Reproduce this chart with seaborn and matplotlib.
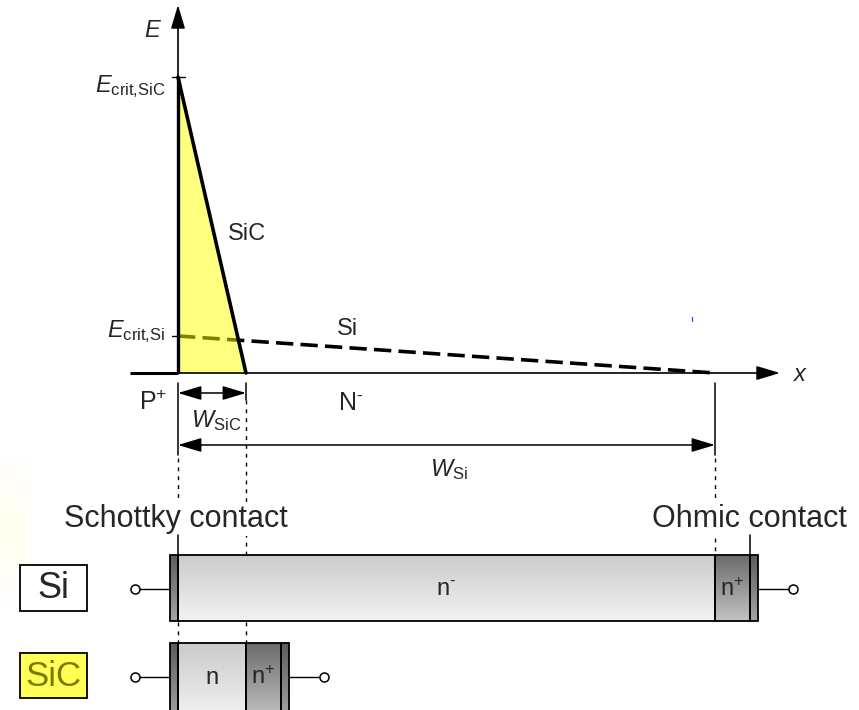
import numpy as np
import matplotlib
matplotlib.use("Agg")
import matplotlib.pyplot as plt
from matplotlib.colors import to_rgb
from matplotlib.patches import Rectangle
import pandas as pd
import seaborn as sns

sns.set_theme(style="white")
plt.rcParams["font.family"] = ["Liberation Sans", "DejaVu Sans"]
plt.rcParams.update({
    "mathtext.fontset": "custom",
    "mathtext.rm": "Liberation Sans",
    "mathtext.it": "Liberation Sans:italic",
    "mathtext.bf": "Liberation Sans:bold",
})

# Depletion widths and critical fields (diagram units, origin at the junction)
W_SIC = 68
W_SI = 537
E_CRIT_SIC = 296
E_CRIT_SI = 37

sic_depth = [0, W_SIC]
sic_field = [E_CRIT_SIC, 0]
si_depth = [0, W_SI]
si_field = [E_CRIT_SI, 0]

# Device layer stacks: (name, start, end)
si_layers = [("contact", -8, 0), ("n-", 0, W_SI), ("n+", W_SI, W_SI + 35), ("contact", W_SI + 35, W_SI + 43)]
sic_layers = [("contact", -8, 0), ("n", 0, W_SIC), ("n+", W_SIC, W_SIC + 35), ("contact", W_SIC + 35, W_SIC + 43)]

fig = plt.figure(figsize=(8.59, 7.10), dpi=100)
ax = fig.add_axes([0, 0, 1, 1])
ax.set_axis_off()

K = "black"
HYPHEN_SUP = r"$^{\text{-}}$"

# soft pale glow at the left edge
gy = np.linspace(0, 1, 200)[:, None]
gx = np.linspace(0, 1, 40)[None, :]
alpha = 0.12 * np.exp(-((gy - 0.5) / 0.3) ** 2) * np.clip((1 - gx) * 6, 0, 1)
glow = np.zeros((200, 40, 4))
glow[..., 0] = 1.0
glow[..., 1] = 0.97
glow[..., 2] = 0.5
glow[..., 3] = alpha
ax.imshow(glow, extent=[-178, -145, -232, -82], aspect="auto", zorder=0)

# ---- field diagram ----
prof_si = pd.DataFrame({"depth": si_depth, "field": si_field})
prof_sic = pd.DataFrame({"depth": sic_depth, "field": sic_field})

sns.lineplot(data=prof_si, x="depth", y="field", ax=ax, color=K, lw=2.6,
             estimator=None, zorder=2)
ax.lines[-1].set_dashes((4.8, 2.0))
ax.lines[-1].set_dash_capstyle("butt")

ax.fill_between(sic_depth, sic_field, 0, color=(1, 1, 0), alpha=0.5, lw=0, zorder=3)
sns.lineplot(data=prof_sic, x="depth", y="field", ax=ax, color=K, lw=2.6,
             estimator=None, zorder=4)
ax.plot([0, 0], [0, E_CRIT_SIC], color=K, lw=2.4, zorder=4, solid_capstyle="butt")

# axes with arrow heads
arrow = dict(arrowstyle="-|>,head_length=0.8,head_width=0.24", mutation_scale=18,
             lw=1.2, color=K, shrinkA=0, shrinkB=0)
ax.annotate("", xy=(0, 368), xytext=(0, 0), arrowprops=arrow, zorder=5)
ax.annotate("", xy=(602, 0), xytext=(0, 0), arrowprops=arrow, zorder=5)
ax.plot([-48, 0], [0, 0], color=K, lw=2.2, zorder=5, solid_capstyle="butt")

# critical-field ticks
ax.plot([-6, 7], [E_CRIT_SIC, E_CRIT_SIC], color=K, lw=1.0, zorder=5)
ax.plot([-6, 0], [E_CRIT_SI, E_CRIT_SI], color=K, lw=1.0, zorder=5)

ax.text(-25, 342, r"$E$", fontsize=17, ha="center", va="center")
ax.text(623, -2, r"$x$", fontsize=17, ha="center", va="center")
ax.text(-13, 281, r"$E_{\mathrm{crit{,}SiC}}$", fontsize=17, ha="right", va="baseline")
ax.text(-13, 36, r"$E_{\mathrm{crit{,}Si}}$", fontsize=17, ha="right", va="baseline")
ax.text(69, 139, "SiC", fontsize=17, ha="center", va="center")
ax.text(169, 44, "Si", fontsize=17, ha="center", va="center")
ax.text(-25, -37, r"P$^{+}$", fontsize=18, ha="center", va="baseline")
ax.text(173, -37, "N" + HYPHEN_SUP, fontsize=18, ha="center", va="baseline")

# stray marker
ax.plot([514, 514], [52, 56], color="#3a3aff", lw=0.9, zorder=5)

# width arrows
darrow = dict(arrowstyle="<|-|>,head_length=0.8,head_width=0.24", mutation_scale=18,
              lw=1.1, color=K, shrinkA=0, shrinkB=0)
ax.annotate("", xy=(W_SIC, -20), xytext=(0, -20), arrowprops=darrow)
ax.annotate("", xy=(W_SI, -72), xytext=(0, -72), arrowprops=darrow)
ax.text(38, -54, r"$W_{\mathrm{SiC}}$", fontsize=17, ha="center", va="baseline")
ax.text(271, -103, r"$W_{\mathrm{Si}}$", fontsize=17, ha="center", va="baseline")

# reference verticals
for x0, y0, y1 in [(0, -10, -82), (W_SIC, -10, -27), (W_SI, -10, -82)]:
    ax.plot([x0, x0], [y0, y1], color=K, lw=1.1, zorder=4)
dot = (2.8, 3.6)
for x0, y0, y1 in [(0, -85, -164), (W_SIC, -27, -182), (W_SI, -85, -182),
                   (0, -249, -270), (W_SIC, -249, -270)]:
    ln, = ax.plot([x0, x0], [y0, y1], color=K, lw=1.0, zorder=4)
    ln.set_dashes(dot)

# contact labels and leads
tb = dict(facecolor="white", edgecolor="none", pad=1.5)
ax.text(-2, -154, "Schottky contact", fontsize=22, ha="center", va="baseline", bbox=tb, zorder=6)
ax.text(571, -154, "Ohmic contact", fontsize=22, ha="center", va="baseline", bbox=tb, zorder=6)
ax.plot([0, 0], [-162, -182], color=K, lw=1.1, zorder=7)
ax.plot([si_layers[3][1]] * 2, [-162, -182], color=K, lw=1.1, zorder=7)

# ---- device cross sections ----
shade = {
    "contact": ("#5c5c5c", "#a4a4a4"),
    "n-": ("#cbcbcb", "#f2f2f2"),
    "n": ("#cbcbcb", "#f2f2f2"),
    "n+": ("#6c6c6c", "#c2c2c2"),
}


def gradient_rect(x0, x1, ytop, ybot, colors, z=3):
    c0, c1 = np.array(to_rgb(colors[0])), np.array(to_rgb(colors[1]))
    t = np.linspace(0, 1, 96)[:, None]
    img = (c0 * (1 - t) + c1 * t)[:, None, :]
    ax.imshow(img, extent=[x0, x1, ybot, ytop], origin="upper", aspect="auto",
              interpolation="bilinear", zorder=z)
    ax.add_patch(Rectangle((x0, ybot), x1 - x0, ytop - ybot, fill=False,
                           ec=K, lw=1.3, zorder=z + 1))


def device(layers, ytop, ybot, ywire, labels):
    for name, x0, x1 in layers:
        gradient_rect(x0, x1, ytop, ybot, shade[name])
    left, right = layers[0][1], layers[-1][2]
    ax.plot([-43, left], [ywire, ywire], color=K, lw=1.0, zorder=4)
    ax.plot([right, right + 35], [ywire, ywire], color=K, lw=1.0, zorder=4)
    ax.plot([-43, right + 35], [ywire, ywire], "o", ms=6.5, mfc="white", mec=K,
            mew=1.1, ls="none", zorder=5)
    for (name, x0, x1), lab in zip(layers, labels):
        if lab:
            ax.text((x0 + x1) / 2, ywire - 1, lab, fontsize=17, ha="center",
                    va="center", zorder=6)


device(si_layers, -182, -248, -216, [None, "n" + HYPHEN_SUP, r"n$^{+}$", None])
device(sic_layers, -270, -345, -304, [None, "n", r"n$^{+}$", None])

# material tags
ax.add_patch(Rectangle((-158, -238), 67, 46, fc="white", ec=K, lw=1.3, zorder=3))
ax.text(-124.5, -215, "Si", fontsize=26, ha="center", va="center", zorder=4)
ax.add_patch(Rectangle((-158, -325), 67, 45, fc="#ffff55", ec=K, lw=1.3, zorder=3))
ax.text(-124.5, -303, "SiC", fontsize=25, ha="center", va="center", color="#7a7a00", zorder=4)

ax.set_xlim(-178, 681)
ax.set_ylim(-337, 373)

fig.savefig("out.png", dpi=100, facecolor="white")
